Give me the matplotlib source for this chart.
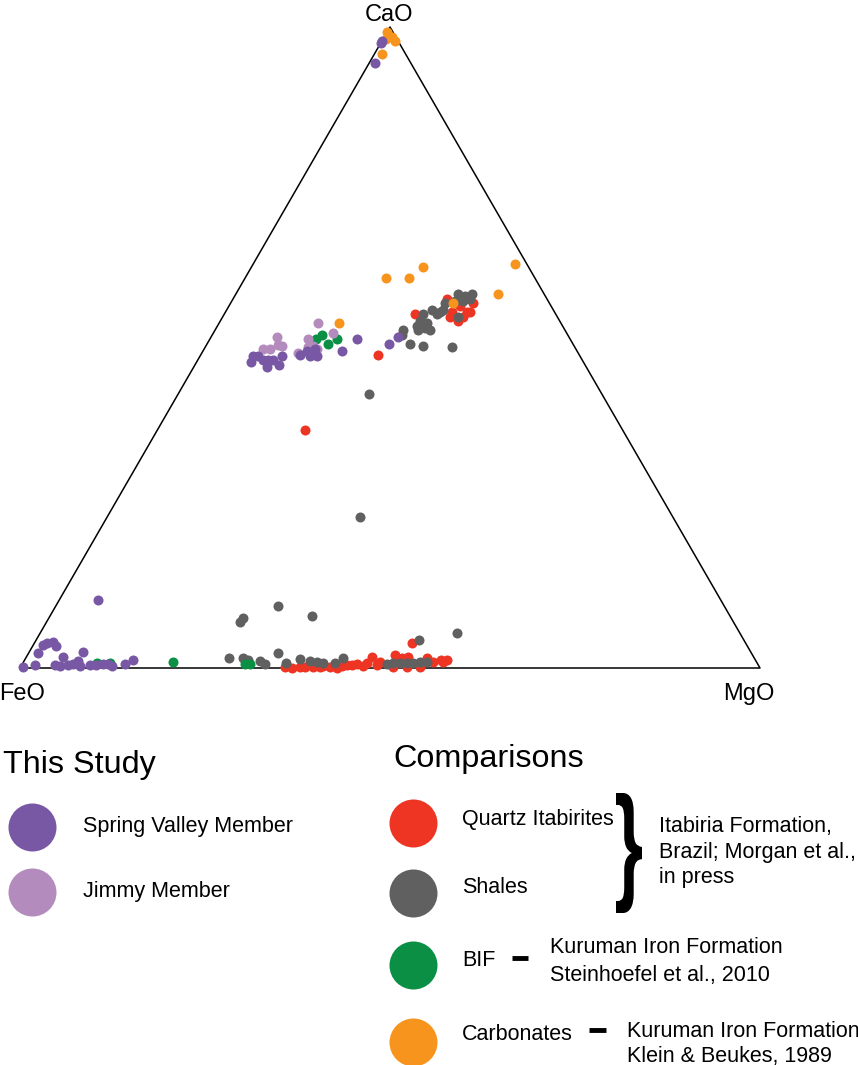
import numpy as np
import matplotlib.pyplot as plt
from matplotlib.textpath import TextPath
from matplotlib.font_manager import FontProperties
from matplotlib.patches import PathPatch
from matplotlib.transforms import Affine2D

plt.rcParams['font.family'] = ['Liberation Sans', 'DejaVu Sans']

# Compositions in wt% of the CaO-FeO-MgO system; FeO is the remainder
spring_cao = [97.5, 97.8, 94.4,
              47.7, 48.75, 48.6, 48.1, 48.1, 46.9, 48.1, 48.6, 47.3, 48.9, 49.4, 48.6,
              48.6, 49.7, 49.5, 51.4, 50.6, 51.6,
              10.6, 0.2, 0.5, 2.3, 3.6, 3.9, 4.1, 3.4, 1.7, 0.5, 0.3, 0.5, 0.6, 1.1,
              0.3, 2.5, 0.5, 0.5, 0.6, 0.6, 0.3, 0.6, 1.25]
spring_mgo = [0.0, 0.0, 0.8,
              7.3, 7.1, 7.9, 8.75, 9.45, 9.95, 10.15, 11.1, 11.35, 13.35, 14.1, 14.9,
              15.8, 15.05, 18.75, 19.8, 24.6, 25.3,
              5.2, 0.3, 1.75, 1.25, 1.3, 1.7, 2.45, 3.2, 4.95, 4.45, 5.25, 6.25, 6.9, 7.25,
              7.95, 7.25, 9.25, 10.05, 10.9, 11.6, 12.25, 13.9, 14.7]

jimmy_cao = [49.8, 49.7, 51.6, 50.2, 49.1, 51.4, 50.2, 53.9, 52.3, 50.0, 49.7, 50.4]
jimmy_mgo = [7.9, 8.95, 8.9, 10.3, 13.05, 13.2, 14.5, 13.35, 16.15, 13.9, 15.25, 9.6]

quartz_cao = [57.5, 55.5, 56.4, 55.5, 57.0, 55.5, 54.1, 55.2, 48.9, 54.8, 54.7, 37.2,
              0.2, 0.0, 0.2, 0.2, 0.2, 0.2, 0.3, 0.2, 0.0, 0.3, 0.5, 0.5, 0.6, 0.3,
              0.8, 1.7, 0.5, 0.9, 0.2, 2.0, 1.6, 1.7, 0.2, 3.9, 0.2, 1.6, 0.9, 1.25,
              0.9, 1.25]
quartz_mgo = [28.95, 30.65, 31.3, 32.65, 32.7, 33.05, 32.15, 25.8, 23.95, 30.7, 32.55, 19.9,
              35.7, 36.8, 37.7, 38.4, 39.5, 40.4, 40.75, 41.8, 42.8, 43.35, 43.95, 44.65,
              45.2, 46.25, 46.5, 46.75, 47.95, 48.15, 50.3, 49.7, 50.8, 51.55, 52.2, 51.05,
              53.95, 54.2, 55.35, 56.2, 56.75, 57.1]

shale_cao = [58.3, 58.0, 58.3, 57.5, 57.2, 57.2, 57.0, 55.9, 55.5, 55.9, 55.2, 55.2,
             54.1, 53.9, 53.3, 53.1, 52.8, 52.8, 52.8, 52.0, 50.5, 50.3, 50.0, 54.8,
             42.7, 23.6,
             1.6, 7.2, 7.8, 9.7, 8.1, 1.6, 1.25, 1.1, 0.6, 2.3, 0.8, 1.4, 1.1, 0.9,
             0.8, 0.8, 1.6, 0.6, 0.8, 0.8, 0.8, 0.8, 0.9, 0.9, 4.4, 5.5]
shale_mgo = [30.05, 31.1, 31.95, 32.05, 31.3, 30.2, 28.9, 29.25, 29.05, 27.75, 28.8, 26.9,
             27.0, 28.05, 26.95, 28.15, 29.0, 27.4, 25.4, 25.6, 27.45, 29.35, 33.4, 31.8,
             25.85, 34.1,
             27.4, 26.1, 26.2, 30.05, 35.45, 29.3, 30.2, 31.85, 32.8, 33.75, 35.5, 37.1,
             38.65, 39.65, 40.5, 42.2, 42.8, 49.3, 50.0, 51.0, 51.9, 52.7, 53.6, 54.55,
             51.7, 56.3]

bif_cao = [52.0, 50.6, 51.4, 51.25, 0.8, 0.8, 0.9, 0.6, 0.6]
bif_mgo = [14.8, 16.3, 17.1, 14.4, 10.0, 11.8, 20.25, 30.1, 30.8]

carb_cao = [99.2, 98.4, 97.8, 95.8, 98.1,
            60.9, 60.8, 62.5, 63.0, 58.4, 57.0, 53.75]
carb_mgo = [0.0, 1.1, 1.8, 1.0, 0.4,
            19.0, 22.2, 23.2, 35.4, 35.4, 30.0, 16.3]

C_SPRING = '#7858a4'
C_JIMMY = '#b48bbd'
C_QUARTZ = '#ee3524'
C_SHALE = '#606060'
C_BIF = '#0a8f45'
C_CARB = '#f7941d'

H = np.sqrt(3) / 2
FS = 15.5


def to_xy(cao, mgo):
    """Ternary (CaO top, FeO left, MgO right) to cartesian."""
    c = np.asarray(cao) / 100.0
    m = np.asarray(mgo) / 100.0
    return m + c / 2, c * H


W, HT = 858, 1065
fig = plt.figure(figsize=(W / 100, HT / 100), dpi=100)

# ternary axes, triangle fills the axes box
ax = fig.add_axes([20 / W, (HT - 668) / HT, 740 / W, 641 / HT])
ax.set_xlim(0, 1)
ax.set_ylim(0, H)
ax.axis('off')
ax.plot([0, 1, 0.5, 0], [0, 0, H, 0], color='black', lw=1.1, clip_on=False, zorder=1)

for cao, mgo, col in [(quartz_cao, quartz_mgo, C_QUARTZ),
                      (shale_cao, shale_mgo, C_SHALE),
                      (bif_cao, bif_mgo, C_BIF),
                      (carb_cao, carb_mgo, C_CARB),
                      (jimmy_cao, jimmy_mgo, C_JIMMY),
                      (spring_cao, spring_mgo, C_SPRING)]:
    x, y = to_xy(cao, mgo)
    ax.scatter(x, y, s=52, color=col, linewidths=0, clip_on=False, zorder=3)

# overlay in pixel units for labels and the key
lax = fig.add_axes([0, 0, 1, 1])
lax.set_xlim(0, W)
lax.set_ylim(HT, 0)
lax.axis('off')

lax.text(389, 21, 'CaO', fontsize=17, ha='center', va='baseline')
lax.text(22, 700, 'FeO', fontsize=17, ha='center', va='baseline')
lax.text(749, 700, 'MgO', fontsize=17, ha='center', va='baseline')

lax.text(3, 773, 'This Study', fontsize=23.3, va='baseline')
lax.text(393, 767, 'Comparisons', fontsize=23.3, va='baseline')

key_study = [('Spring Valley Member', C_SPRING, 827, 832),
             ('Jimmy Member', C_JIMMY, 892, 897)]
for label, col, yc, yb in key_study:
    lax.scatter([32], [yc], s=1195, color=col, linewidths=0)
    lax.text(83, yb, label, fontsize=FS, va='baseline')

key_comp = [('Quartz Itabirites', C_QUARTZ, 823, 825),
            ('Shales', C_SHALE, 893, 893),
            ('BIF', C_BIF, 965, 966),
            ('Carbonates', C_CARB, 1042, 1040)]
for label, col, yc, yb in key_comp:
    lax.scatter([413], [yc], s=1195, color=col, linewidths=0, clip_on=False)
    lax.text(462, yb, label, fontsize=FS, va='baseline')

# curly brace grouping the two Itabira sample sets, stretched to span both rows
brace = TextPath((0, 0), '}', size=1, prop=FontProperties(family='Liberation Sans', weight='bold'))
ext = brace.get_extents()
bx0, by0, bw, bh = ext.x0, ext.y0, ext.width, ext.height
tr = (Affine2D().translate(-bx0, -by0)
      .scale(26 / bw, -120 / bh)
      .translate(616, 913))
lax.add_patch(PathPatch(tr.transform_path(brace), color='black', lw=0))

for yb, line in zip([832, 858, 883], ['Itabiria Formation,', 'Brazil; Morgan et al.,', 'in press']):
    lax.text(659, yb, line, fontsize=FS, va='baseline')

lax.plot([512, 528], [958, 958], color='black', lw=3.5, solid_capstyle='butt')
lax.text(550, 953, 'Kuruman Iron Formation', fontsize=FS, va='baseline')
lax.text(550, 981, 'Steinhoefel et al., 2010', fontsize=FS, va='baseline')

lax.plot([589, 606], [1030, 1030], color='black', lw=3.5, solid_capstyle='butt')
lax.text(627, 1037, 'Kuruman Iron Formation', fontsize=FS, va='baseline')
lax.text(627, 1062, 'Klein & Beukes, 1989', fontsize=FS, va='baseline')

fig.savefig('out.png', dpi=100)
